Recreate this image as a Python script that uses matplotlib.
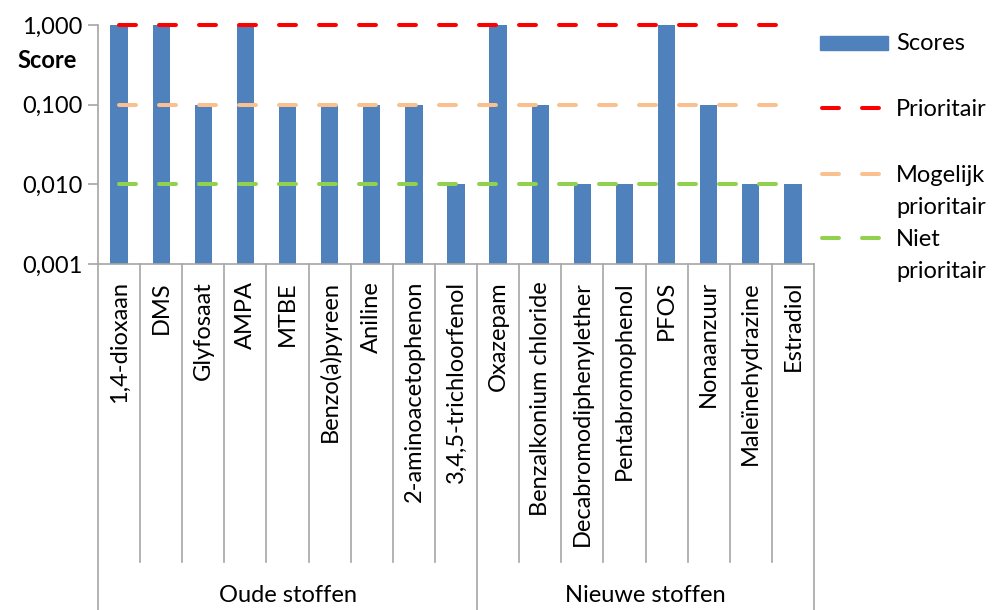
import numpy as np
import matplotlib.pyplot as plt
from matplotlib.lines import Line2D
from matplotlib.patches import Rectangle
from matplotlib.ticker import FixedLocator, FuncFormatter

plt.rcParams['font.family'] = ['Lato', 'DejaVu Sans']
plt.rcParams['lines.scale_dashes'] = False

# stoffen en scores
stoffen = ["1,4-dioxaan", "DMS", "Glyfosaat", "AMPA", "MTBE", "Benzo(a)pyreen",
           "Aniline", "2-aminoacetophenon", "3,4,5-trichloorfenol",
           "Oxazepam", "Benzalkonium chloride", "Decabromodiphenylether",
           "Pentabromophenol", "PFOS", "Nonaanzuur", "Maleïnehydrazine", "Estradiol"]
scores = [1, 1, 0.1, 1, 0.1, 0.1, 0.1, 0.1, 0.01,
          1, 0.1, 0.01, 0.01, 1, 0.1, 0.01, 0.01]
groepen = ["Oude stoffen", "Nieuwe stoffen"]
groep_n = [9, 8]

grens_labels = [["Prioritair"], ["Mogelijk", "prioritair"], ["Niet", "prioritair"]]
grens_waarden = [1.0, 0.1, 0.01]
grens_kleuren = ["#FF0000", "#FAC090", "#92D050"]

FS = 17
W, H = 992, 610
fig = plt.figure(figsize=(W / 100, H / 100), dpi=100)
ax = fig.add_axes([98 / W, 1 - 264 / H, (814 - 98) / W, (264 - 25) / H])

n = len(stoffen)
x = np.arange(n)
ymin = 0.001
ax.bar(x, np.array(scores) - ymin, bottom=ymin, width=0.41, color="#4F81BD", zorder=2)

lw = 2.9
dash = (0, (12.2, 16.6))
for val, kleur in zip(grens_waarden, grens_kleuren):
    ax.plot(x, [val] * n, color=kleur, lw=lw, linestyle=dash,
            dash_capstyle='round', zorder=3, clip_on=False)

ax.set_yscale('log')
ax.set_ylim(ymin, 1)
ax.set_xlim(-0.5, n - 0.5)
ax.yaxis.set_major_locator(FixedLocator([0.001, 0.01, 0.1, 1]))
ax.yaxis.set_minor_locator(FixedLocator([]))
ax.yaxis.set_major_formatter(FuncFormatter(lambda v, p: f"{v:.3f}".replace(".", ",")))
ax.tick_params(axis='y', labelsize=FS, length=7, width=1.2, color="#A6A6A6", pad=4)
ax.set_xticks([])

for s in ["top", "right"]:
    ax.spines[s].set_visible(False)
ax.spines["left"].set_color("#A6A6A6")
ax.spines["bottom"].set_color("#A6A6A6")
ax.spines["left"].set_linewidth(1.2)
ax.spines["bottom"].set_linewidth(1.2)

fig.text(47 / W, 1 - 61 / H, "Score", fontsize=FS, fontweight='bold',
         ha='center', va='center')

# categorie labels en scheidingslijnen
trans = ax.get_xaxis_transform()
ax_h = 264 - 25
for i, naam in enumerate(stoffen):
    ax.text(i, -(281 - 264) / ax_h, naam, rotation=90, ha='center', va='top',
            fontsize=FS, transform=trans)

grenzen = np.cumsum([0] + groep_n) - 0.5
for b in np.arange(n + 1) - 0.5:
    eind = (610 - 264) if b in grenzen else (562 - 264)
    ax.add_line(Line2D([b, b], [0, -eind / ax_h], transform=trans, color="#A6A6A6",
                       lw=1.2, clip_on=False))

for g, start, cnt in zip(groepen, grenzen[:-1], groep_n):
    ax.text(start + cnt / 2, -(596 - 264) / ax_h, g, ha='center', va='center',
            fontsize=FS, transform=trans)

# legenda
fig.add_artist(Rectangle((820 / W, 1 - 50 / H), 68 / W, 14 / H,
                         transform=fig.transFigure, color="#4F81BD"))
fig.text(896 / W, 1 - 43 / H, "Scores", fontsize=FS, va='center')
leg_y = [108, 174, 238]
for y, regels, kleur in zip(leg_y, grens_labels, grens_kleuren):
    fig.add_artist(Line2D([822 / W, 886 / W], [1 - y / H] * 2, transform=fig.transFigure,
                          color=kleur, lw=lw, linestyle=(0, (12.2, 16.6)),
                          dash_capstyle='round'))
    for k, regel in enumerate(regels):
        fig.text(896 / W, 1 - (y + 1 + 33 * k) / H, regel, fontsize=FS, va='center')

fig.savefig("out.png", dpi=100)
